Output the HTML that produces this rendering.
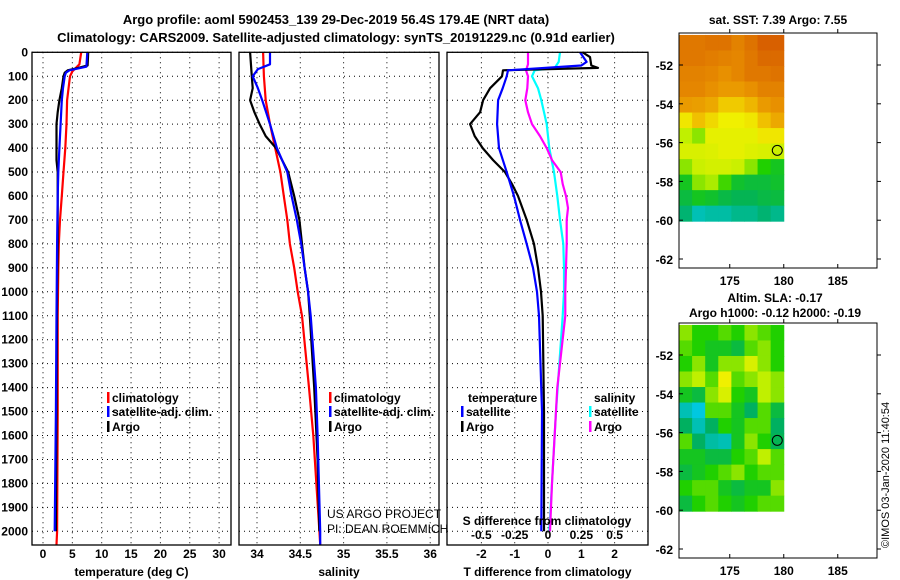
<!DOCTYPE html>
<html><head><meta charset="utf-8"><style>
body{margin:0;background:#fff;}
svg{display:block;font-family:"Liberation Sans",sans-serif;}
.t{font-weight:bold;font-size:13px;}
.k{font-weight:bold;font-size:12px;}
</style></head><body>
<svg id="c" width="900" height="580" viewBox="0 0 900 580">
<text class="t" x="336" y="24" text-anchor="middle">Argo profile: aoml 5902453_139 29-Dec-2019 56.4S 179.4E (NRT data)</text>
<text class="t" x="336" y="42" text-anchor="middle">Climatology: CARS2009. Satellite-adjusted climatology: synTS_20191229.nc (0.91d earlier)</text>
<g id="g"></g>
</svg>
<script>
// ---- data ----
const depthTicks=[0,100,200,300,400,500,600,700,800,900,1000,1100,1200,1300,1400,1500,1600,1700,1800,1900,2000];
const tempTicks=[0,5,10,15,20,25,30];
const salTicks=[34,34.5,35,35.5,36];
const tdiffTicks=[-2,-1,0,1,2];
const sdiffTicks=[-0.5,-0.25,0,0.25,0.5];
const tArgoDepth=[0,55,65,75,85,100,150,200,250,300,400,450,500,600,800,1000,1500,2000];
const tArgo=[7.7,7.6,6,4.2,3.7,3.5,3.2,2.8,2.5,2.3,2.3,2.3,2.5,2.5,2.5,2.4,2.3,2.2];
const tSatDepth=[0,60,75,85,100,150,200,300,400,500,600,800,1100,1500,2000];
const tSat=[7.55,7.4,4.5,3.9,3.7,3.4,3.2,3.0,2.8,2.6,2.5,2.4,2.3,2.2,2.0];
const tClimDepth=[0,50,80,100,200,300,400,500,600,700,800,900,1100,1500,2000,2055];
const tClim=[6.5,6.2,5.0,4.6,4.1,4.0,3.8,3.5,3.2,2.9,2.7,2.6,2.5,2.5,2.4,2.3];
const sArgoDepth=[0,100,150,200,250,300,350,400,450,500,600,700,800,900,1000,1100,1400,1700,2000];
const sArgo=[33.92,33.94,33.95,33.92,33.97,34.03,34.1,34.22,34.29,34.36,34.43,34.49,34.52,34.55,34.59,34.61,34.66,34.7,34.72];
const sSatDepth=[0,50,70,100,150,200,300,400,500,600,700,800,900,1000,1100,1400,1600,2000,2055];
const sSat=[34.15,34.15,34.01,33.95,34.01,34.06,34.15,34.23,34.35,34.4,34.46,34.51,34.55,34.59,34.62,34.68,34.7,34.73,34.73];
const sClimDepth=[0,100,200,300,400,500,600,700,800,900,1000,1100,1400,1600,2000,2055];
const sClim=[34.07,34.08,34.1,34.15,34.21,34.27,34.31,34.35,34.38,34.43,34.47,34.52,34.6,34.65,34.72,34.73];
const dtArgoDepth=[0,20,55,65,75,100,150,200,250,300,350,400,450,500,550,600,700,800,900,1000,1100,1500,2000];
const dtArgo=[1.04,1.26,1.3,1.5,-1.35,-1.38,-1.74,-1.95,-2.04,-2.34,-2.2,-1.96,-1.65,-1.29,-1.08,-0.9,-0.64,-0.42,-0.3,-0.21,-0.16,-0.12,-0.12];
const dtSatDepth=[0,40,55,75,100,150,200,300,400,500,600,700,800,900,1000,1100,1500,2000];
const dtSat=[0.96,1.16,1.0,-1.2,-1.24,-1.36,-1.5,-1.53,-1.47,-1.24,-1.02,-0.84,-0.64,-0.45,-0.33,-0.27,-0.18,-0.2];
const dsSatDepth=[0,40,65,75,100,150,200,300,400,500,600,700,800,900,1000,1100,1500,2000];
const dsSat=[0.09,0.08,0.05,-0.1,-0.12,-0.075,-0.05,-0.01,0.01,0.045,0.07,0.09,0.115,0.12,0.12,0.11,0.06,0.01];
const dsArgoDepth=[0,50,75,100,150,200,250,300,350,400,450,500,550,600,650,700,800,900,1000,1100,1400,1800,2000];
const dsArgo=[-0.15,-0.15,-0.165,-0.15,-0.155,-0.17,-0.15,-0.12,-0.06,-0.01,0.03,0.095,0.11,0.135,0.15,0.14,0.14,0.135,0.13,0.13,0.07,0.03,0.015];
const latTicks=[-52,-54,-56,-58,-60,-62];
const lonTicks=[175,180,185];
const sstGrid=[
[.95,.95,.96,.96,.93,.96,1,1],[.95,.95,.94,.93,.92,.95,.98,.98],[.93,.93,.92,.90,.92,.95,.95,.96],
[.92,.92,.90,.88,.88,.90,.93,.93],[.88,.87,.85,.78,.78,.82,.88,.90],[.72,.80,.75,.70,.70,.72,.80,.85],
[.60,.55,.68,.68,.68,.68,.72,.72],[.65,.65,.66,.68,.68,.66,.65,.62],[.55,.62,.64,.64,.62,.55,.45,.40],
[.40,.55,.58,.48,.38,.36,.36,.38],[.35,.40,.38,.34,.32,.32,.34,.35],[.28,.20,.22,.22,.25,.25,.28,.25]];
const slaGrid=[
[.55,.45,.45,.5,.45,.55,.5,.45],[.5,.45,.4,.4,.35,.5,.55,.45],[.45,.55,.4,.55,.55,.65,.55,.45],
[.55,.6,.5,.7,.5,.55,.6,.55],[.4,.35,.55,.65,.45,.4,.6,.55],[.2,.15,.5,.5,.4,.3,.5,.35],
[.3,.2,.3,.45,.4,.5,.5,.3],[.5,.3,.22,.2,.4,.55,.45,.32],[.4,.4,.35,.35,.45,.5,.6,.5],
[.35,.4,.45,.5,.55,.45,.5,.5],[.45,.5,.5,.4,.35,.4,.4,.55],[.35,.45,.5,.45,.4,.45,.5,.5]];
const argoLon=179.4, argoLat=-56.4;
// ---- helpers ----
const NS='http://www.w3.org/2000/svg', G=document.getElementById('g');
function mk(tag,at,txt){const e=document.createElementNS(NS,tag);for(const k in at)e.setAttribute(k,at[k]);if(txt!==undefined)e.textContent=txt;G.appendChild(e);return e;}
const TOP=52.3,BOT=545,yD=d=>TOP+d*0.2395;
const xT=t=>43+t*5.87, xS=s=>257+(s-34)*86.6, xDT=d=>548+d*33.3, xDS=d=>548+d*133.3;
const panels=[[32,231,tempTicks,xT,'temperature (deg C)',v=>v],[239,439,salTicks,xS,'salinity',v=>v],[447,648,tdiffTicks,xDT,'T difference from climatology',v=>v]];
panels.forEach((p,i)=>{
  const [l,r,ticks,fx,lab]=p;
  depthTicks.forEach(d=>{
    let e=mk('line',{x1:l,x2:r,y1:yD(d),y2:yD(d),stroke:'#000','stroke-width':1,'stroke-dasharray':'1 4'});
    
  });
  ticks.forEach(t=>{
    let e=mk('line',{x1:fx(t),x2:fx(t),y1:TOP,y2:BOT,stroke:'#000','stroke-width':1,'stroke-dasharray':'1 4'});
    
    e=mk('text',{class:'k',x:fx(t),y:558,'text-anchor':'middle'},String(t));
    
  });
  let e=mk('text',{class:'k',x:(l+r)/2,y:576,'text-anchor':'middle'},lab);
  
});
depthTicks.forEach(d=>{
  let e=mk('text',{class:'k',x:28,y:yD(d)+4,'text-anchor':'end'},String(d));
  
});
function line(ds,vs,fx,col,name){
  const pts=ds.map((d,i)=>fx(vs[i]).toFixed(1)+','+yD(d).toFixed(1)).join(' ');
  const e=mk('polyline',{points:pts,fill:'none',stroke:col,'stroke-width':2.2,'stroke-linejoin':'round'});
  
}
line(tClimDepth,tClim,xT,'#ff0000','temp-climatology-line');
line(tArgoDepth,tArgo,xT,'#000','temp-argo-line');
line(tSatDepth,tSat,xT,'#0000ff','temp-satellite-line');
line(sClimDepth,sClim,xS,'#ff0000','sal-climatology-line');
line(sArgoDepth,sArgo,xS,'#000','sal-argo-line');
line(sSatDepth,sSat,xS,'#0000ff','sal-satellite-line');
line(dsSatDepth,dsSat,xDS,'#00ffff','sdiff-satellite-line');
line(dsArgoDepth,dsArgo,xDS,'#ff00ff','sdiff-argo-line');
line(dtArgoDepth,dtArgo,xDT,'#000','tdiff-argo-line');
line(dtSatDepth,dtSat,xDT,'#0000ff','tdiff-satellite-line');
// frames
panels.forEach(p=>{let e=mk('rect',{x:p[0],y:TOP,width:p[1]-p[0],height:BOT-TOP,fill:'none',stroke:'#000','stroke-width':1.3});
 });
// legends
function leg(x,y,col,txt,name){
  let e=mk('rect',{x:x,y:y-10,width:2.5,height:11,fill:col});
  
  e=mk('text',{class:'k',x:x+5,y:y},txt);
  
}
leg(107,402,'#ff0000','climatology','legend-climatology');
leg(107,416,'#0000ff','satellite-adj. clim.','legend-satellite-adj');
leg(107,431,'#000','Argo','legend-argo');
leg(329,402,'#ff0000','climatology','legend-sal-climatology');
leg(329,416,'#0000ff','satellite-adj. clim.','legend-sal-satellite-adj');
leg(329,431,'#000','Argo','legend-sal-argo');
let e=mk('text',{class:'k',x:468,y:402},'temperature');
leg(461,416,'#0000ff','satellite','legend-t-satellite');
leg(461,431,'#000','Argo','legend-t-argo');
e=mk('text',{class:'k',x:594,y:402},'salinity');
leg(589,416,'#00ffff','satellite','legend-s-satellite');
leg(589,431,'#ff00ff','Argo','legend-s-argo');
e=mk('text',{class:'k',x:547,y:525,'text-anchor':'middle'},'S difference from climatology');
sdiffTicks.forEach(t=>{e=mk('text',{class:'k',x:xDS(t),y:539,'text-anchor':'middle'},String(t).replace('0.','.').replace('-.','-0.').replace(/^\.(\d)/,'0.$1'));
 });
e=mk('text',{x:327,y:518,'font-size':12},'US ARGO PROJECT');
e=mk('text',{x:327,y:533,'font-size':12},'PI: DEAN ROEMMICH');
// maps
const stops=[[0,[0,0,192]],[.15,[0,200,224]],[.3,[0,176,96]],[.45,[32,208,0]],[.6,[192,240,0]],[.7,[240,240,0]],[.8,[240,192,0]],[.9,[232,144,0]],[1,[216,96,0]]];
function cmap(v){for(let i=1;i<stops.length;i++){if(v<=stops[i][0]){const a=stops[i-1],b=stops[i],f=(v-a[0])/(b[0]-a[0]);return 'rgb('+a[1].map((c,j)=>Math.round(c+(b[1][j]-c)*f)).join(',')+')';}}return 'rgb(216,96,0)';}
function map(top,grid,name,t1,t2){
  const L=679,R=877,lonX=lo=>L+(lo-170.3)*10.8,latY=la=>top+(-50.35-la)*19.4;
  const x0=lonX(170.3),x1=lonX(180),y0=latY(-50.45),y1=latY(-60.05);
  const nr=grid.length,nc=grid[0].length,cw=(x1-x0)/nc,ch=(y1-y0)/nr;
  grid.forEach((row,r)=>row.forEach((v,c)=>{
    let e=mk('rect',{x:x0+c*cw,y:y0+r*ch,width:cw+0.5,height:ch+0.5,fill:cmap(v)});
    
  }));
  let e=mk('rect',{x:L,y:top,width:R-L,height:235,fill:'none',stroke:'#000','stroke-width':1});
  
  latTicks.forEach(la=>{
    e=mk('text',{class:'k',x:673,y:latY(la)+5,'text-anchor':'end'},String(la));
    
    mk('line',{x1:L,x2:L+4,y1:latY(la),y2:latY(la),stroke:'#000'});
    mk('line',{x1:R,x2:R+4,y1:latY(la),y2:latY(la),stroke:'#000'});
  });
  lonTicks.forEach(lo=>{
    e=mk('text',{class:'k',x:lonX(lo),y:top+252,'text-anchor':'middle'},String(lo));
    
    mk('line',{x1:lonX(lo),x2:lonX(lo),y1:top,y2:top-4,stroke:'#000'});
    mk('line',{x1:lonX(lo),x2:lonX(lo),y1:top+235,y2:top+231,stroke:'#000'});
  });
  e=mk('circle',{cx:lonX(argoLon),cy:latY(argoLat),r:5,fill:'none',stroke:'#000','stroke-width':1});
  
}
map(33,sstGrid,'sst-map');
map(323,slaGrid,'sla-map');
e=mk('text',{class:'k',x:778,y:24,'text-anchor':'middle'},'sat. SST: 7.39 Argo: 7.55');
e=mk('text',{class:'k',x:775,y:302,'text-anchor':'middle'},'Altim. SLA: -0.17');
e=mk('text',{class:'k',x:775,y:317,'text-anchor':'middle'},'Argo h1000: -0.12 h2000: -0.19');
e=mk('text',{x:889,y:548,'font-size':11,transform:'rotate(-90 889 548)'},'©IMOS 03-Jan-2020 11:40:54');
</script>
</body></html>
